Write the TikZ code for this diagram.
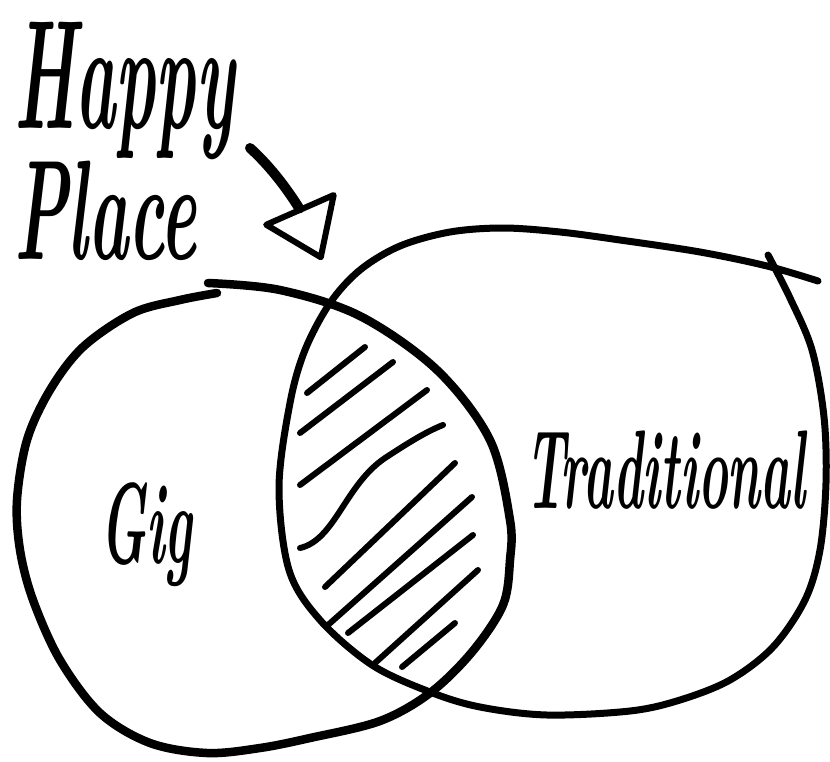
\documentclass[tikz,border=0pt]{standalone}
\usepackage{fontspec}
\usepackage{graphicx}
\usetikzlibrary{arrows.meta}

\tikzset{
  outline/.style={line width=#1, line cap=round, line join=round},
  hatch/.style={line width=6pt, line cap=round},
  lettering/.style={inner sep=0pt, anchor=base west},
}
\newcommand{\brushword}[3][0.45]{\scalebox{#1}[1]{\fontsize{#2}{#2}\selectfont\bfseries\itshape #3}}

\begin{document}
\begin{tikzpicture}[x=1pt,y=-1pt]
\useasboundingbox (0,0) rectangle (830,761);
% labels
\node[inner sep=0pt, anchor=north west, align=left, font=\fontsize{150}{124}\selectfont] (happy) at (14,22)
  {\brushword[0.44]{155}{Happy}\\\brushword[0.48]{142}{Place}};
\node[lettering] (gig) at (100,563) {\brushword{115}{Gig}};
\node[lettering] (trad) at (525,508) {\brushword{112}{Traditional}};
% the two sets
\draw[outline=8.5pt] plot[smooth, tension=0.55] coordinates {(208,283) (280,290) (360,316) (437,370) (490,440) (510,520) (510,560) (503,605) (472,652) (430,693) (380,721) (310,738) (260,748) (207,753) (150,743) (100,713) (60,660) (33,600) (20,550) (17,500) (27,440) (50,390) (83,347) (133,313) (180,300) (217,293)};
\draw[outline=7pt] plot[smooth, tension=0.55] coordinates {(768,255) (790,298) (812,350) (824,417) (826,483) (820,550) (805,600) (773,647) (730,680) (680,700) (630,711) (547,715) (480,707) (430,692) (372,665) (320,620) (289,570) (279,487) (290,403) (305,350) (330,303) (360,270) (400,246) (450,232) (503,228) (560,232) (620,240) (700,252) (767,266) (818,281)};
% shading of the overlap
\draw[hatch] (307,393) -- (365,347);
\draw[hatch] (300,433) -- (393,362);
\draw[hatch] (300,485) -- (427,390);
\draw[hatch] (300,548) .. controls (335,540) and (345,485) .. (385,458) .. controls (405,445) and (425,432) .. (443,425);
\draw[hatch] (325,587) -- (455,463);
\draw[hatch] (328,625) -- (472,497);
\draw[hatch] (348,633) -- (473,535);
\draw[hatch] (375,663) -- (478,570);
\draw[hatch] (402,667) -- (455,623);
% pointer
\coordinate (pointer) at (250,148);
\coordinate (sweet) at (322,260);
\draw[line width=10pt, line cap=round,
  -{Triangle[open, length=60pt, width=84pt, line width=6pt, round]}]
  (pointer) .. controls (280,175) and (300,210) .. (sweet);
\end{tikzpicture}
\end{document}
